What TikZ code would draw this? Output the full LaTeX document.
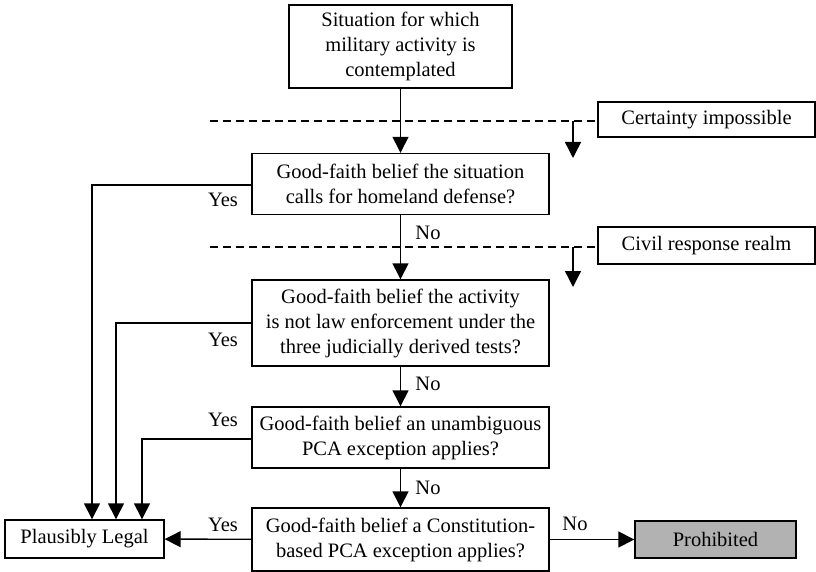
\documentclass[tikz,border=0pt]{standalone}
\usepackage{fontspec}
\setmainfont{Liberation Serif}
\usetikzlibrary{arrows.meta}
\begin{document}
\begin{tikzpicture}[x=1pt,y=-1pt,
  every node/.style={font=\fontsize{20.5}{25}\selectfont},
  box/.style={draw, line width=1.4pt, align=center, inner sep=0pt},
  lbl/.style={inner sep=0pt},
  conn/.style={line width=1.4pt},
  arr/.style={conn, -{Triangle[length=16pt,width=16pt]}},
  dsh/.style={line width=1.1pt, dash pattern=on 8pt off 5pt}]
\useasboundingbox (0,0) rectangle (816,572);
\node[box, minimum width=223pt, minimum height=83pt] (b1) at (400.5,46.5) {Situation for which\\military activity is\\contemplated};
\node[box, minimum width=297pt, minimum height=61pt] (b2) at (400.5,184) {Good-faith belief the situation\\calls for homeland defense?};
\node[box, minimum width=297pt, minimum height=86pt] (b3) at (400.5,323) {Good-faith belief the activity\\is not law enforcement under the\\three judicially derived tests?};
\node[box, minimum width=297pt, minimum height=61pt] (b4) at (400.5,437.5) {Good-faith belief an unambiguous\\PCA exception applies?};
\node[box, minimum width=297pt, minimum height=63pt] (b5) at (400.5,539.5) {Good-faith belief a Constitution-\\based PCA exception applies?};
\node[box, minimum width=159pt, minimum height=38pt] (pl) at (84.5,539) {Plausibly Legal};
\node[box, fill=black!30, minimum width=161pt, minimum height=37pt] (pr) at (715.5,539.5) {Prohibited};
\node[box, minimum width=217pt, minimum height=35pt] (ci) at (706.5,119.5) {Certainty impossible};
\node[box, minimum width=217pt, minimum height=37pt] (cr) at (706.5,245.5) {Civil response realm};

% dashed lines
\coordinate (d1s) at (210,121);
\coordinate (d2s) at (210,247);
\draw[dsh] (d1s) -- (d1s -| ci.west);
\draw[dsh] (d2s) -- (d2s -| cr.west);
\coordinate (a1s) at (573,121);
\coordinate (a1e) at (573,158);
\coordinate (a2s) at (573,247);
\coordinate (a2e) at (573,287);
\draw[arr] (a1s) -- (a1e);
\draw[arr] (a2s) -- (a2e);

% main flow
\draw[arr] (b1) -- (b2);
\draw[arr] (b2) -- (b3);
\draw[arr] (b3) -- (b4);
\draw[arr] (b4) -- (b5);
\draw[arr] (b5) -- (pr);
\draw[arr] (b5) -- (pl);
\draw[arr] ([yshift=-1pt]b2.west) -| ([xshift=7.5pt]pl.north);
\draw[arr] (b3.west) -| ([xshift=31.5pt]pl.north);
\draw[arr] ([yshift=-1.5pt]b4.west) -| ([xshift=57.5pt]pl.north);

% labels
\node[lbl] (y2) at (223,200) {Yes};
\node[lbl] (y3) at (223,340) {Yes};
\node[lbl] (y4) at (223,420) {Yes};
\node[lbl] (y5) at (223,525) {Yes};
\node[lbl] (n2) at (428,233) {No};
\node[lbl] (n3) at (428,384) {No};
\node[lbl] (n4) at (428,488) {No};
\node[lbl] (n5) at (575,524) {No};
\end{tikzpicture}
\end{document}
